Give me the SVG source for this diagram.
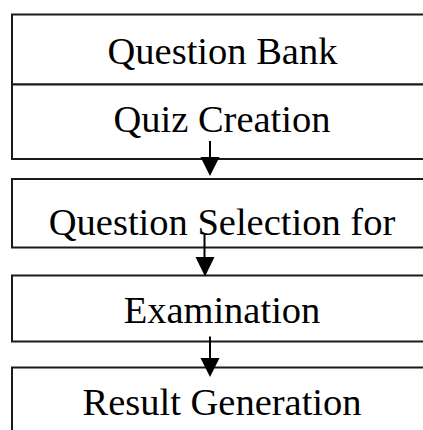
<svg xmlns="http://www.w3.org/2000/svg" width="423" height="430" viewBox="0 0 423 430">
  <style>
    .box { fill: #ffffff; stroke: #1a1a1a; stroke-width: 2; }
    .lbl { font-family: "Liberation Serif", "Times New Roman", serif; font-size: 38.5px; fill: #000000; text-anchor: middle; }
    .conn { stroke: #000000; stroke-width: 2; fill: none; }
    .head { fill: #000000; stroke: none; }
  </style>
  <rect x="0" y="0" width="423" height="430" fill="#ffffff"/>
  <g id="node-question-bank">
    <rect class="box" x="12" y="14.5" width="440" height="70"/>
    <text class="lbl" x="222.5" y="64">Question Bank</text>
  </g>
  <g id="node-quiz-creation">
    <rect class="box" x="12" y="84.5" width="440" height="74.5"/>
    <text class="lbl" x="222" y="132">Quiz Creation</text>
  </g>
  <g id="node-question-selection">
    <rect class="box" x="12" y="179" width="440" height="68.5"/>
    <text class="lbl" x="222" y="235">Question Selection for</text>
  </g>
  <g id="node-examination">
    <rect class="box" x="12" y="275.5" width="440" height="66"/>
    <text class="lbl" x="222" y="323">Examination</text>
  </g>
  <g id="node-result-generation">
    <rect class="box" x="12" y="367.5" width="440" height="80"/>
    <text class="lbl" x="222" y="415">Result Generation</text>
  </g>
  <g id="connectors">
    <line class="conn" x1="210" y1="141" x2="210" y2="160"/>
    <polygon class="head" points="200.5,157 219.5,157 210,176"/>
    <line class="conn" x1="204.5" y1="235" x2="204.5" y2="259"/>
    <polygon class="head" points="195.5,257 214.5,257 205,276.5"/>
    <line class="conn" x1="210" y1="336.5" x2="210" y2="360"/>
    <polygon class="head" points="200.5,358 219.5,358 210,377"/>
  </g>
</svg>
